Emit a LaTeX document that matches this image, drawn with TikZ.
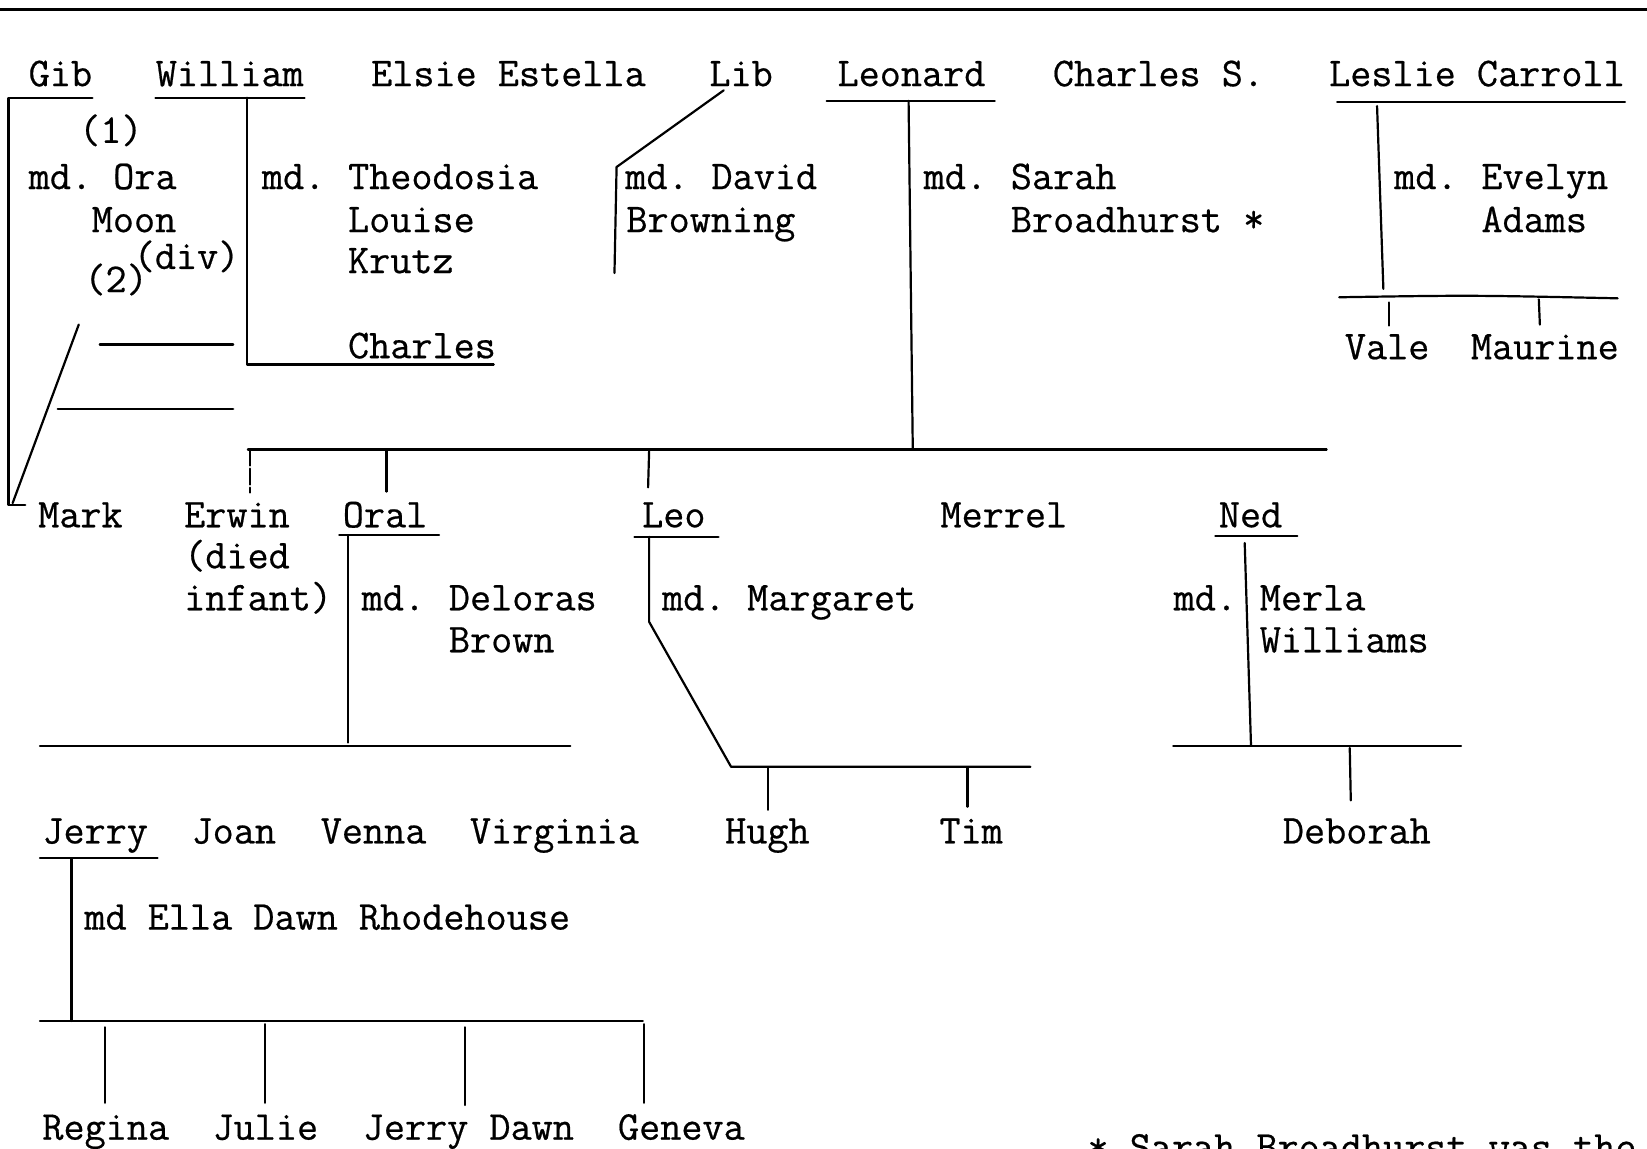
\documentclass[tikz,border=0pt]{standalone}
\usepackage{fontspec}
\setmonofont{Latin Modern Mono}[FakeBold=0.5]
\begin{document}
\begin{tikzpicture}[x=0.5252pt,y=-0.5252pt,
  t/.style={anchor=base west,inner sep=0pt,font=\ttfamily\fontsize{20.5}{21}\selectfont},
  ln/.style={line width=1.1pt,line cap=round,line join=round}]
\useasboundingbox (0,0) rectangle (1568,1093);
\clip (0,0) rectangle (1568,1093);
% top rule
\coordinate (rl) at (0,9); \coordinate (rr) at (1568,9);
\draw[ln] (rl) -- (rr);
% ---------- row 1 ----------
\node[t] (gib) at (27,82) {Gib};
\node[t] (william) at (148,82) {William};
\node[t] (elsie) at (353,82) {Elsie Estella};
\node[t] (lib) at (675,82) {Lib};
\node[t] (leonard) at (797,82) {Leonard};
\node[t] (charless) at (1002,82) {Charles S.};
\node[t] (leslie) at (1265,82) {Leslie Carroll};
% Gib
\coordinate (gibA) at (88,93); \coordinate (gibB) at (8,93);
\coordinate (gibC) at (8,481); \coordinate (gibD) at (24,481);
\draw[ln] (gibA) -- (gibB) -- (gibC) -- (gibD);
\coordinate (gibE) at (75,309); \coordinate (gibF) at (12,479);
\draw[ln] (gibE) -- (gibF);
\coordinate (b1a) at (95,328); \coordinate (b1b) at (222,328);
\coordinate (b2a) at (55,389); \coordinate (b2b) at (222,389);
\draw[ln] (b1a) -- (b1b);
\draw[ln] (b2a) -- (b2b);
\node[t] (one) at (75,136) {(1)};
\node[t] (gibmd) at (27,180) {md. Ora};
\node[t] (moon) at (87,221) {Moon};
\node[t] (div) at (127,256) {(div)};
\node[t] (two) at (80,278) {(2)};
% William
\coordinate (wA) at (148,93); \coordinate (wB) at (290,93);
\draw[ln] (wA) -- (wB);
\coordinate (wC) at (235,93); \coordinate (wD) at (235,347); \coordinate (wE) at (470,347);
\draw[ln] (wC) -- (wD) -- (wE);
\node[t] (wmd) at (249,180) {md.};
\node[t] (theo) at (331,180) {Theodosia};
\node[t] (louise) at (331,221) {Louise};
\node[t] (krutz) at (331,260) {Krutz};
\node[t] (charles) at (331,341) {Charles};
% Lib
\coordinate (lA) at (689,86); \coordinate (lB) at (587,159); \coordinate (lC) at (585,260);
\draw[ln] (lA) -- (lB) -- (lC);
\node[t] (libmd) at (595,180) {md.};
\node[t] (david) at (677,180) {David};
\node[t] (browning) at (596,221) {Browning};
% Leonard
\coordinate (leA) at (787,96); \coordinate (leB) at (947,96);
\draw[ln] (leA) -- (leB);
\coordinate (leC) at (865,96); \coordinate (leD) at (869,428);
\draw[ln] (leC) -- (leD);
\node[t] (lemd) at (879,180) {md.};
\node[t] (sarah) at (962,180) {Sarah};
\node[t] (broad) at (962,221) {Broadhurst *};
% Leslie
\coordinate (lsA) at (1273,97); \coordinate (lsB) at (1547,97);
\draw[ln] (lsA) -- (lsB);
\coordinate (lsC) at (1311,101); \coordinate (lsD) at (1317,275);
\draw[ln] (lsC) -- (lsD);
\node[t] (lsmd) at (1327,180) {md.};
\node[t] (evelyn) at (1410,180) {Evelyn};
\node[t] (adams) at (1410,221) {Adams};
\coordinate (lsE) at (1275,283); \coordinate (lsF) at (1540,284);
\draw[ln] (lsE) .. controls (1400,281) .. (lsF);
\node[t] (vale) at (1280,342) {Vale};
\node[t] (maurine) at (1400,342) {Maurine};
\coordinate (vt) at (1322,288); \coordinate (mt) at (1465,285);
\draw[ln] (vt) -- (1322,310);
\draw[ln] (mt) -- (1466,309);
% ---------- Leonard's children ----------
\coordinate (cA) at (236,428); \coordinate (cB) at (1263,428);
\draw[ln] (cA) -- (cB);
\coordinate (erT) at (238,428); \coordinate (erB) at (238,469);
\draw[ln,dash pattern=on 8pt off 1.5pt] (erT) -- (erB);
\coordinate (orT) at (368,429); \coordinate (orB) at (368,468);
\draw[ln] (orT) -- (orB);
\coordinate (leoT) at (618,429); \coordinate (leoB) at (617,464);
\draw[ln] (leoT) -- (leoB);
\node[t] (mark) at (36,502) {Mark};
\node[t] (erwin) at (175,502) {Erwin};
\node[t] (died) at (175,541) {(died};
\node[t] (infant) at (175,581) {infant)};
\node[t] (oral) at (326,502) {Oral};
\node[t] (leo) at (611,502) {Leo};
\node[t] (merrel) at (895,502) {Merrel};
\node[t] (ned) at (1160,502) {Ned};
% Oral
\coordinate (oA) at (323,509); \coordinate (oB) at (418,509);
\draw[ln] (oA) -- (oB);
\coordinate (oC) at (331,510); \coordinate (oD) at (331,707);
\draw[ln] (oC) -- (oD);
\node[t] (omd) at (344,581) {md.};
\node[t] (deloras) at (427,581) {Deloras};
\node[t] (brown) at (427,621) {Brown};
\coordinate (oE) at (38,710); \coordinate (oF) at (543,710);
\draw[ln] (oE) -- (oF);
% Leo
\coordinate (lpA) at (604,511); \coordinate (lpB) at (684,511);
\draw[ln] (lpA) -- (lpB);
\coordinate (lpC) at (618,511); \coordinate (lpD) at (618,592);
\coordinate (lpE) at (696,730); \coordinate (lpF) at (981,730);
\draw[ln] (lpC) -- (lpD) -- (lpE) -- (lpF);
\node[t] (lpmd) at (630,581) {md.};
\node[t] (marg) at (711,581) {Margaret};
\coordinate (hT) at (731,731); \coordinate (tT) at (921,731);
\draw[ln] (hT) -- (731,771);
\draw[ln] (tT) -- (921,768);
% Ned
\coordinate (nA) at (1157,510); \coordinate (nB) at (1235,510);
\draw[ln] (nA) -- (nB);
\coordinate (nC) at (1185,517); \coordinate (nD) at (1191,710);
\draw[ln] (nC) -- (nD);
\node[t] (nmd) at (1117,581) {md.};
\node[t] (merla) at (1199,581) {Merla};
\node[t] (williams) at (1199,621) {Williams};
\coordinate (nE) at (1117,710); \coordinate (nF) at (1391,710);
\draw[ln] (nE) -- (nF);
\coordinate (dT) at (1285,712);
\draw[ln] (dT) -- (1286,762);
% ---------- row 3 ----------
\node[t] (jerry) at (40,803) {Jerry};
\node[t] (joan) at (182,803) {Joan};
\node[t] (venna) at (305,803) {Venna};
\node[t] (virginia) at (447,803) {Virginia};
\node[t] (hugh) at (690,803) {Hugh};
\node[t] (tim) at (894,803) {Tim};
\node[t] (deborah) at (1221,803) {Deborah};
% Jerry
\coordinate (jA) at (38,817); \coordinate (jB) at (150,817);
\draw[ln] (jA) -- (jB);
\coordinate (jC) at (68,817); \coordinate (jD) at (68,972);
\draw[ln] (jC) -- (jD);
\node[t] (jmd) at (80,885) {md Ella Dawn Rhodehouse};
\coordinate (jE) at (38,972); \coordinate (jF) at (612,972);
\draw[ln] (jE) -- (jF);
\coordinate (k1) at (100,978); \coordinate (k2) at (252,975);
\coordinate (k3) at (443,978); \coordinate (k4) at (613,975);
\draw[ln] (k1) -- (100,1050);
\draw[ln] (k2) -- (252,1050);
\draw[ln] (k3) -- (443,1052);
\draw[ln] (k4) -- (613,1050);
\node[t] (regina) at (40,1085) {Regina};
\node[t] (julie) at (202,1085) {Julie};
\node[t] (jdawn) at (345,1085) {Jerry Dawn};
\node[t] (geneva) at (588,1085) {Geneva};
% footnote (cut off by page edge)
\node[t] (foot) at (1035,1104) {* Sarah Broadhurst was the};
\end{tikzpicture}
\end{document}
